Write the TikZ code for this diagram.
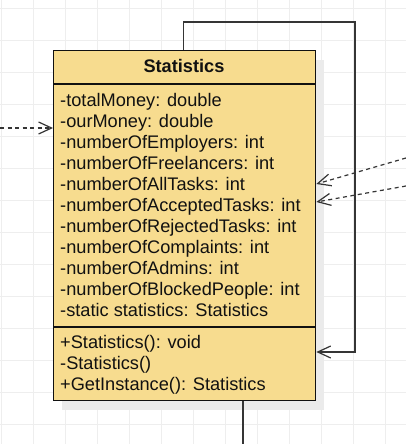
\documentclass[tikz,border=0pt]{standalone}
\usepackage{fontspec}
\setmainfont{Liberation Sans}
\usetikzlibrary{arrows.meta}
\definecolor{gridc}{HTML}{EEEEEE}
\definecolor{fillc}{HTML}{F7DC8F}
\definecolor{shadc}{HTML}{EBEBEB}
\definecolor{linec}{HTML}{111111}
\tikzset{
  gridline/.style={draw=gridc, line width=1pt},
  classbox/.style={draw=linec, fill=fillc, line width=1.3pt, inner sep=0pt, anchor=north west},
  divider/.style={draw=linec, line width=1.3pt},
  member/.style={anchor=base west, inner sep=0pt, text=linec, font=\fontsize{18.2}{21}\selectfont},
  titletext/.style={anchor=base, inner sep=0pt, text=linec, font=\fontsize{18.2}{21}\selectfont\bfseries},
  openhead/.style={-{Straight Barb[length=13pt,width=12pt,line width=1.2pt]}},
  conn/.style={draw=linec!85, line width=1.3pt, openhead},
  plain/.style={draw=linec!85, line width=1.3pt},
  dep/.style={draw=linec!85, line width=1.2pt, dash pattern=on 4pt off 3.5pt, openhead}
}
\begin{document}
\begin{tikzpicture}[x=1pt,y=-1pt]
\useasboundingbox (0,0) rectangle (406,444);
\fill[white] (0,0) rectangle (406,444);
\foreach \x in {1,33,...,385} \draw[gridline] (\x,0) -- (\x,444);
\foreach \y in {8.5,40.5,...,424.5} \draw[gridline] (0,\y) -- (406,\y);
% shadow
\fill[shadc] (62,60) rectangle (324,410);
% class box
\node[classbox, minimum width=262pt, minimum height=350pt] (cls) at (53,50) {};
\coordinate (d1) at (0,84);
\coordinate (d2) at (0,327);
\draw[divider] (cls.west |- d1) -- (cls.east |- d1);
\draw[divider] (cls.west |- d2) -- (cls.east |- d2);
\node[titletext] (title) at (184,73) {Statistics};
\node[member] (a1) at (60,106) {-totalMoney: double};
\node[member] (a2) at (60,127) {-ourMoney: double};
\node[member] (a3) at (60,148) {-numberOfEmployers: int};
\node[member] (a4) at (60,169) {-numberOfFreelancers: int};
\node[member] (a5) at (60,190) {-numberOfAllTasks: int};
\node[member] (a6) at (60,211) {-numberOfAcceptedTasks: int};
\node[member] (a7) at (60,232) {-numberOfRejectedTasks: int};
\node[member] (a8) at (60,253) {-numberOfComplaints: int};
\node[member] (a9) at (60,274) {-numberOfAdmins: int};
\node[member] (a10) at (60,295) {-numberOfBlockedPeople: int};
\node[member] (a11) at (60,316) {-static statistics: Statistics};
\node[member] (m1) at (60,348) {+Statistics(): void};
\node[member] (m2) at (60,369) {-Statistics()};
\node[member] (m3) at (60,390) {+GetInstance(): Statistics};
% self loop
\coordinate (loopTR) at (355,22);
\coordinate (loopY) at (0,352);
\draw[conn] ([xshift=-1pt]cls.north) |- (loopTR) |- (cls.east |- loopY);
% bottom line
\coordinate (botEnd) at (243,444);
\draw[plain] (cls.south -| botEnd) -- (botEnd);
% left dependency
\coordinate (lin) at (0,128);
\draw[dep] (lin) -- (cls.west |- lin);
% right dependencies
\coordinate (r1) at (406,158);
\coordinate (e1) at (0,184);
\draw[dep] (r1) -- (cls.east |- e1);
\coordinate (r2) at (406,186);
\coordinate (e2) at (0,202);
\draw[dep] (r2) -- (cls.east |- e2);
\end{tikzpicture}
\end{document}
